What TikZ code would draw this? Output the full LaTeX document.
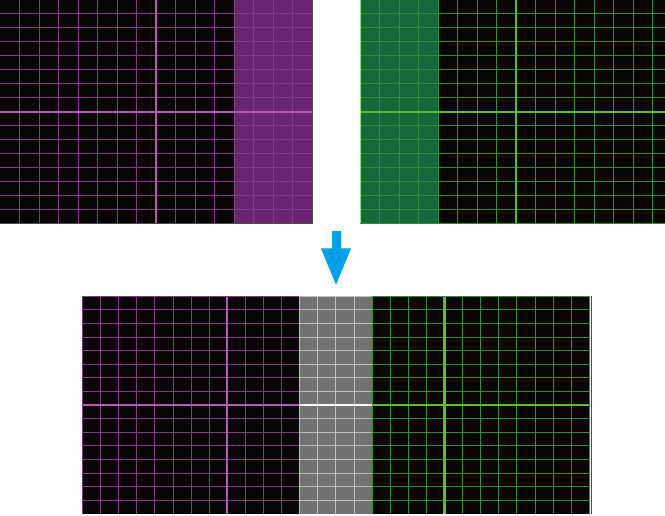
\documentclass[tikz,border=0pt]{standalone}
\usetikzlibrary{arrows.meta}
\definecolor{ink}{HTML}{0A0505}
\definecolor{magline}{HTML}{843A86}
\definecolor{magmid}{HTML}{B45AB6}
\definecolor{magfill}{HTML}{6B2470}
\definecolor{grnline}{HTML}{2F8C3A}
\definecolor{grnmid}{HTML}{5CBF2A}
\definecolor{grnfill}{HTML}{14693A}
\definecolor{gryline}{HTML}{BEBEBE}
\definecolor{gryfill}{HTML}{717171}
\definecolor{arrowblue}{HTML}{00A0E9}
\begin{document}
\begin{tikzpicture}[x=1pt,y=1pt,
  mag/.style={draw=magline,line width=1pt},
  magm/.style={draw=magmid,line width=2.2pt},
  grn/.style={draw=grnline,line width=1pt},
  grnm/.style={draw=grnmid,line width=2.2pt},
  gry/.style={draw=gryline,line width=1pt},
  grym/.style={draw=white,line width=2.2pt},
  rim/.style={draw=black!70,line width=1pt}]
\useasboundingbox (0,0) rectangle (665,515);
\clip (0,0) rectangle (665,515);
% left frame
\begin{scope}[shift={(0,291)},x=19.5pt,y=14pt]
\fill[ink] (0,0) rectangle (16,16);
\fill[magfill] (12,0) rectangle (16,16);
\foreach \k in {1,...,15} {\draw[mag] (\k,0)--(\k,16); \draw[mag] (0,\k)--(16,\k);}
\draw[magm] (8,0)--(8,16) (0,8)--(16,8);
\draw[mag,draw=magmid] (0,16)--(16,16);
\draw[rim] (16,16)--(16,0)--(0,0);
\end{scope}
% right frame
\begin{scope}[shift={(360,291)},x=19.5pt,y=14pt]
\fill[ink] (0,0) rectangle (16,16);
\fill[grnfill] (0,0) rectangle (4,16);
\foreach \k in {1,...,15} {\draw[grn] (\k,0)--(\k,16); \draw[grn] (0,\k)--(16,\k);}
\draw[grnm] (8,0)--(8,16) (0,8)--(16,8);
\draw[grn,draw=grnmid!60!white] (0,0)--(0,16)--(16,16);
\draw[grn] (0,0)--(16,0);
\end{scope}
% arrow
\coordinate (from) at (336,283.5);
\coordinate (to) at (336,228.5);
\draw[arrowblue,line width=9pt,-{Triangle[length=38pt,width=27pt]}] (from)--(to);
% stitched frame
\begin{scope}[shift={(82.5,1.1)},x=18.1pt,y=13.6pt]
\fill[ink] (0,0) rectangle (28,16);
\fill[gryfill] (12,0) rectangle (16,16);
\foreach \k in {1,...,15} {\draw[mag] (0,\k)--(12,\k); \draw[gry] (12,\k)--(16,\k); \draw[grn] (16,\k)--(28,\k);}
\foreach \k in {1,...,11} \draw[mag] (\k,0)--(\k,16);
\foreach \k in {13,14,15} \draw[gry] (\k,0)--(\k,16);
\foreach \k in {17,...,27} \draw[grn] (\k,0)--(\k,16);
\draw[magm] (8,0)--(8,16) (0,8)--(12,8);
\draw[grym] (12,8)--(16,8);
\draw[grnm] (20,0)--(20,16) (16,8)--(28,8);
\draw[mag] (0,0)--(0,16)--(12,16);
\draw[gry] (12,0)--(12,16)--(16,16);
\draw[grn] (16,0)--(16,16)--(28,16)--(28,0);
\draw[rim] (28.12,0)--(28.12,16);
\end{scope}
\end{tikzpicture}
\end{document}
